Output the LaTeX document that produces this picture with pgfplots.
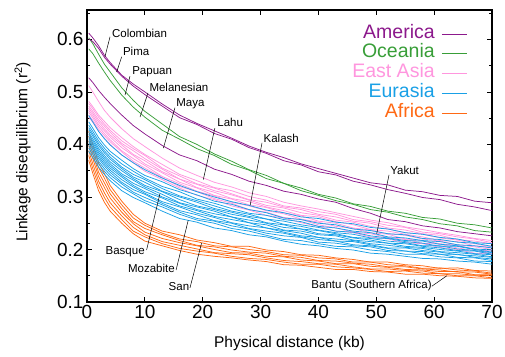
\documentclass[border=0pt]{standalone}
\usepackage{pgfplots}
\pgfplotsset{compat=1.18}
\usepackage{pgfplotstable}
\usepackage{fontspec}
\setmainfont{Liberation Sans}

\definecolor{amer}{RGB}{140,25,140}
\definecolor{ocea}{RGB}{56,158,56}
\definecolor{easia}{RGB}{255,150,222}
\definecolor{eura}{RGB}{25,160,230}
\definecolor{afr}{RGB}{255,105,20}

\tikzset{
  ann/.style={font=\fontsize{11.5}{12}\selectfont, inner sep=0pt},
  lead/.style={black, line width=0.5pt},
  leg/.style={font=\fontsize{19.5}{20}\selectfont, inner sep=0pt, anchor=base east},
}

% America (Colombian, Pima, Maya) and Oceania (Papuan, Melanesian)
\pgfplotstableread{
x col pima maya pap mel
0.3 0.612 0.601 0.527 0.603 0.582
1 0.603 0.596 0.518 0.592 0.573
2 0.588 0.583 0.503 0.572 0.555
3 0.570 0.566 0.490 0.553 0.538
4 0.556 0.553 0.478 0.538 0.522
6 0.532 0.530 0.456 0.508 0.494
8 0.515 0.511 0.436 0.484 0.471
10 0.500 0.495 0.420 0.463 0.452
13 0.477 0.473 0.398 0.439 0.427
16 0.456 0.451 0.380 0.415 0.410
19 0.440 0.438 0.369 0.400 0.392
22 0.426 0.421 0.353 0.382 0.379
25 0.412 0.410 0.343 0.368 0.362
28 0.397 0.394 0.330 0.352 0.351
31 0.385 0.383 0.322 0.341 0.335
34 0.375 0.369 0.311 0.326 0.326
37 0.363 0.361 0.305 0.317 0.312
40 0.354 0.348 0.296 0.305 0.303
43 0.345 0.342 0.290 0.298 0.293
46 0.336 0.330 0.278 0.287 0.286
49 0.327 0.323 0.269 0.282 0.276
52 0.323 0.314 0.257 0.273 0.271
55 0.313 0.307 0.253 0.269 0.262
58 0.310 0.299 0.245 0.261 0.257
61 0.303 0.295 0.241 0.258 0.249
64 0.301 0.286 0.234 0.250 0.245
67 0.292 0.281 0.230 0.247 0.236
70 0.289 0.274 0.226 0.241 0.233
}\amerocea

% East Asia
\pgfplotstableread{
x lahu p1 p2 p3 p4 p5 p6 p7 p8
0.3 0.512 0.482 0.478 0.473 0.469 0.465 0.461 0.456 0.452
1 0.500 0.472 0.468 0.463 0.459 0.455 0.451 0.446 0.442
2 0.482 0.456 0.452 0.447 0.443 0.438 0.434 0.429 0.425
3 0.465 0.444 0.439 0.435 0.430 0.426 0.421 0.417 0.412
4 0.452 0.432 0.427 0.423 0.418 0.414 0.409 0.405 0.400
6 0.430 0.413 0.407 0.402 0.399 0.394 0.388 0.386 0.380
8 0.411 0.396 0.392 0.388 0.381 0.379 0.373 0.368 0.365
10 0.396 0.381 0.379 0.373 0.369 0.363 0.360 0.355 0.349
13 0.374 0.362 0.355 0.353 0.348 0.346 0.339 0.337 0.333
16 0.355 0.343 0.340 0.334 0.334 0.328 0.325 0.320 0.317
19 0.341 0.331 0.325 0.324 0.318 0.317 0.311 0.310 0.303
22 0.328 0.318 0.317 0.312 0.309 0.303 0.302 0.297 0.295
25 0.319 0.312 0.306 0.304 0.297 0.296 0.290 0.288 0.283
28 0.308 0.301 0.295 0.294 0.291 0.285 0.283 0.276 0.275
31 0.301 0.294 0.290 0.284 0.281 0.280 0.274 0.271 0.265
34 0.290 0.283 0.281 0.279 0.274 0.270 0.268 0.261 0.260
37 0.283 0.279 0.276 0.270 0.265 0.264 0.258 0.257 0.251
40 0.277 0.272 0.267 0.265 0.262 0.254 0.252 0.247 0.244
43 0.270 0.267 0.262 0.256 0.253 0.250 0.244 0.241 0.235
46 0.263 0.257 0.254 0.252 0.247 0.241 0.240 0.233 0.232
49 0.256 0.253 0.250 0.244 0.238 0.237 0.232 0.230 0.224
52 0.251 0.246 0.241 0.239 0.235 0.230 0.229 0.223 0.220
55 0.243 0.242 0.237 0.232 0.229 0.227 0.220 0.219 0.213
58 0.238 0.233 0.230 0.229 0.224 0.220 0.217 0.212 0.211
61 0.232 0.230 0.227 0.222 0.217 0.216 0.211 0.210 0.204
64 0.227 0.224 0.219 0.218 0.215 0.209 0.208 0.203 0.200
67 0.221 0.220 0.216 0.211 0.207 0.205 0.200 0.198 0.193
70 0.217 0.213 0.211 0.205 0.204 0.200 0.197 0.192 0.191
}\easiatab

% Eurasia
\pgfplotstableread{
x kal b1 b2 b3 b4 b5 b6 b7 b8 b9 b10 b11 b12 b13
0.3 0.455 0.443 0.437 0.432 0.428 0.423 0.419 0.415 0.411 0.407 0.403 0.398 0.393 0.387
1 0.443 0.431 0.425 0.420 0.416 0.411 0.407 0.403 0.399 0.395 0.391 0.386 0.381 0.375
2 0.425 0.413 0.407 0.402 0.398 0.393 0.389 0.385 0.381 0.377 0.373 0.368 0.363 0.357
3 0.411 0.399 0.393 0.388 0.384 0.379 0.375 0.371 0.367 0.363 0.359 0.354 0.349 0.343
4 0.399 0.387 0.381 0.376 0.372 0.367 0.363 0.359 0.355 0.351 0.347 0.342 0.337 0.331
6 0.380 0.370 0.363 0.357 0.354 0.350 0.344 0.341 0.338 0.333 0.328 0.325 0.319 0.312
8 0.365 0.354 0.349 0.343 0.338 0.335 0.332 0.326 0.322 0.319 0.314 0.309 0.306 0.299
10 0.352 0.341 0.336 0.333 0.328 0.322 0.319 0.316 0.310 0.307 0.305 0.299 0.293 0.289
13 0.336 0.329 0.320 0.316 0.311 0.310 0.305 0.300 0.298 0.291 0.288 0.285 0.281 0.273
16 0.322 0.314 0.310 0.302 0.300 0.295 0.289 0.288 0.283 0.281 0.274 0.271 0.267 0.259
19 0.310 0.304 0.296 0.293 0.290 0.283 0.281 0.276 0.274 0.269 0.266 0.259 0.256 0.252
22 0.300 0.292 0.288 0.283 0.278 0.276 0.273 0.268 0.263 0.261 0.255 0.254 0.250 0.241
25 0.291 0.286 0.278 0.273 0.271 0.267 0.262 0.262 0.257 0.251 0.250 0.245 0.240 0.236
28 0.284 0.276 0.269 0.267 0.263 0.261 0.256 0.251 0.251 0.245 0.240 0.239 0.235 0.228
31 0.275 0.270 0.265 0.258 0.258 0.251 0.250 0.247 0.241 0.241 0.235 0.231 0.227 0.224
34 0.270 0.260 0.257 0.254 0.248 0.247 0.242 0.237 0.236 0.233 0.231 0.226 0.219 0.216
37 0.262 0.257 0.253 0.247 0.244 0.239 0.239 0.235 0.231 0.226 0.224 0.223 0.217 0.210
40 0.259 0.250 0.244 0.242 0.237 0.236 0.230 0.228 0.223 0.223 0.219 0.214 0.211 0.207
43 0.252 0.247 0.241 0.235 0.232 0.230 0.228 0.226 0.220 0.216 0.216 0.212 0.206 0.202
46 0.249 0.239 0.235 0.233 0.229 0.223 0.222 0.218 0.217 0.215 0.209 0.207 0.205 0.199
49 0.242 0.236 0.232 0.226 0.222 0.221 0.218 0.215 0.211 0.209 0.207 0.205 0.199 0.193
52 0.239 0.230 0.224 0.222 0.221 0.216 0.212 0.212 0.208 0.203 0.202 0.198 0.196 0.191
55 0.232 0.228 0.222 0.217 0.215 0.213 0.211 0.206 0.204 0.203 0.197 0.197 0.191 0.187
58 0.229 0.221 0.217 0.216 0.212 0.207 0.206 0.204 0.202 0.198 0.196 0.192 0.191 0.183
61 0.223 0.219 0.215 0.210 0.206 0.207 0.203 0.200 0.196 0.195 0.191 0.191 0.186 0.182
64 0.220 0.214 0.209 0.207 0.206 0.201 0.198 0.197 0.194 0.190 0.191 0.185 0.184 0.178
67 0.213 0.212 0.207 0.201 0.200 0.198 0.197 0.192 0.191 0.188 0.185 0.184 0.178 0.176
70 0.211 0.206 0.203 0.199 0.195 0.194 0.191 0.190 0.186 0.185 0.182 0.179 0.177 0.172
}\euratab

% Africa
\pgfplotstableread{
x o1 o2 o3 o4 o5 o6 o7
0.3 0.425 0.416 0.407 0.398 0.388 0.379 0.370
1 0.400 0.391 0.382 0.373 0.363 0.354 0.345
2 0.365 0.356 0.347 0.339 0.330 0.321 0.312
3 0.345 0.336 0.327 0.318 0.308 0.299 0.290
4 0.322 0.314 0.306 0.298 0.289 0.281 0.273
6 0.292 0.285 0.278 0.271 0.264 0.257 0.250
8 0.267 0.260 0.253 0.249 0.242 0.235 0.230
10 0.250 0.246 0.240 0.233 0.228 0.224 0.216
13 0.235 0.231 0.228 0.221 0.215 0.211 0.207
16 0.228 0.220 0.217 0.213 0.208 0.202 0.198
19 0.218 0.215 0.208 0.207 0.201 0.197 0.191
22 0.213 0.207 0.205 0.200 0.194 0.193 0.187
25 0.206 0.205 0.199 0.194 0.192 0.187 0.184
28 0.206 0.200 0.195 0.193 0.190 0.183 0.180
31 0.199 0.196 0.193 0.187 0.184 0.181 0.177
34 0.196 0.190 0.187 0.186 0.179 0.176 0.171
37 0.190 0.189 0.185 0.180 0.177 0.172 0.170
40 0.189 0.184 0.179 0.178 0.173 0.172 0.166
43 0.184 0.182 0.178 0.173 0.172 0.167 0.162
46 0.181 0.176 0.174 0.173 0.167 0.165 0.162
49 0.176 0.176 0.172 0.168 0.163 0.162 0.158
52 0.176 0.171 0.167 0.166 0.163 0.158 0.157
55 0.171 0.169 0.167 0.162 0.160 0.159 0.153
58 0.169 0.164 0.163 0.161 0.159 0.155 0.153
61 0.164 0.165 0.161 0.158 0.154 0.154 0.150
64 0.165 0.161 0.157 0.158 0.154 0.150 0.149
67 0.160 0.159 0.157 0.152 0.151 0.150 0.146
70 0.159 0.155 0.153 0.152 0.150 0.146 0.145
}\afrtab

\begin{document}
\begin{tikzpicture}
\useasboundingbox (-87pt,-54pt) rectangle (418pt,302pt);
\begin{axis}[
  scale only axis, width=405pt, height=292pt,
  xmin=0, xmax=70, ymin=0.1, ymax=0.656,
  xtick={0,10,...,70},
  ytick={0.1,0.2,0.3,0.4,0.5,0.6},
  minor ytick={0.15,0.25,0.35,0.45,0.55,0.65},
  tick align=inside,
  major tick length=5pt, minor tick length=3pt,
  every tick/.style={black, line width=0.8pt},
  axis line style={line width=1.2pt},
  /pgf/number format/assume math mode=true,
  ticklabel style={font=\fontsize{19}{19}\selectfont},
  yticklabel style={/pgf/number format/.cd, fixed, fixed zerofill, precision=1},
  xlabel={Physical distance (kb)},
  ylabel={Linkage disequilibrium (r\textsuperscript{2})},
  label style={font=\fontsize{15.5}{16}\selectfont},
  xlabel style={at={(axis description cs:0.5,-0.1575)}, anchor=base},
  ylabel style={at={(axis description cs:-0.147,0.514)}, anchor=base},
  every axis plot/.append style={line width=0.75pt, forget plot},
]
% Africa
\pgfplotsinvokeforeach{o1,o2,o3,o4,o5,o6,o7}{
  \addplot[afr] table[x=x, y=#1]{\afrtab};
}
% East Asia
\pgfplotsinvokeforeach{lahu,p1,p2,p3,p4,p5,p6,p7,p8}{
  \addplot[easia] table[x=x, y=#1]{\easiatab};
}
% Eurasia
\pgfplotsinvokeforeach{kal,b1,b2,b3,b4,b5,b6,b7,b8,b9,b10,b11,b12,b13}{
  \addplot[eura] table[x=x, y=#1]{\euratab};
}
% Oceania
\addplot[ocea] table[x=x, y=pap]{\amerocea};
\addplot[ocea] table[x=x, y=mel]{\amerocea};
% America
\addplot[amer] table[x=x, y=col]{\amerocea};
\addplot[amer] table[x=x, y=pima]{\amerocea};
\addplot[amer] table[x=x, y=maya]{\amerocea};

% population labels with leader lines
\node[ann, anchor=base west] at (axis cs:4.3,0.604) {Colombian};
\draw[lead] (axis cs:3.98,0.605) -- (axis cs:3.1,0.567);
\node[ann, anchor=base west] at (axis cs:6.2,0.569) {Pima};
\draw[lead] (axis cs:6.0,0.567) -- (axis cs:5.13,0.538);
\node[ann, anchor=base west] at (axis cs:7.8,0.533) {Papuan};
\draw[lead] (axis cs:7.43,0.530) -- (axis cs:6.57,0.494);
\node[ann, anchor=base west] at (axis cs:10.77,0.500) {Melanesian};
\draw[lead] (axis cs:10.54,0.498) -- (axis cs:9.16,0.452);
\node[ann, anchor=base west] at (axis cs:15.4,0.473) {Maya};
\draw[lead] (axis cs:15.2,0.470) -- (axis cs:13.2,0.393);
\node[ann, anchor=base west] at (axis cs:22.5,0.434) {Lahu};
\draw[lead] (axis cs:22.1,0.431) -- (axis cs:20.1,0.333);
\node[ann, anchor=base west] at (axis cs:30.5,0.403) {Kalash};
\draw[lead] (axis cs:30.25,0.403) -- (axis cs:28.2,0.284);
\node[ann, anchor=base west] at (axis cs:52.4,0.343) {Yakut};
\draw[lead] (axis cs:52.2,0.342) -- (axis cs:50.07,0.230);
\node[ann, anchor=base east] at (axis cs:10.0,0.191) {Basque};
\draw[lead] (axis cs:10.3,0.199) -- (axis cs:12.6,0.306);
\node[ann, anchor=base east] at (axis cs:15.2,0.157) {Mozabite};
\draw[lead] (axis cs:15.4,0.161) -- (axis cs:17.5,0.256);
\node[ann, anchor=base east] at (axis cs:17.7,0.1215) {San};
\draw[lead] (axis cs:17.8,0.127) -- (axis cs:19.8,0.212);
\node[ann, anchor=base east] at (axis cs:59.6,0.125) {Bantu (Southern Africa)};
\draw[lead] (axis cs:59.6,0.130) -- (axis cs:62.2,0.150);

% legend
\node[leg, text=amer]  at (axis description cs:0.859,0.903) {America};
\node[leg, text=ocea]  at (axis description cs:0.859,0.836) {Oceania};
\node[leg, text=easia] at (axis description cs:0.859,0.768) {East Asia};
\node[leg, text=eura]  at (axis description cs:0.859,0.700) {Eurasia};
\node[leg, text=afr]   at (axis description cs:0.859,0.632) {Africa};
\draw[amer,  line width=0.75pt] (axis description cs:0.876,0.917) -- (axis description cs:0.939,0.917);
\draw[ocea,  line width=0.75pt] (axis description cs:0.876,0.850) -- (axis description cs:0.939,0.850);
\draw[easia, line width=0.75pt] (axis description cs:0.876,0.783) -- (axis description cs:0.939,0.783);
\draw[eura,  line width=0.75pt] (axis description cs:0.876,0.714) -- (axis description cs:0.939,0.714);
\draw[afr,   line width=0.75pt] (axis description cs:0.876,0.646) -- (axis description cs:0.939,0.646);
\end{axis}
\end{tikzpicture}
\end{document}
